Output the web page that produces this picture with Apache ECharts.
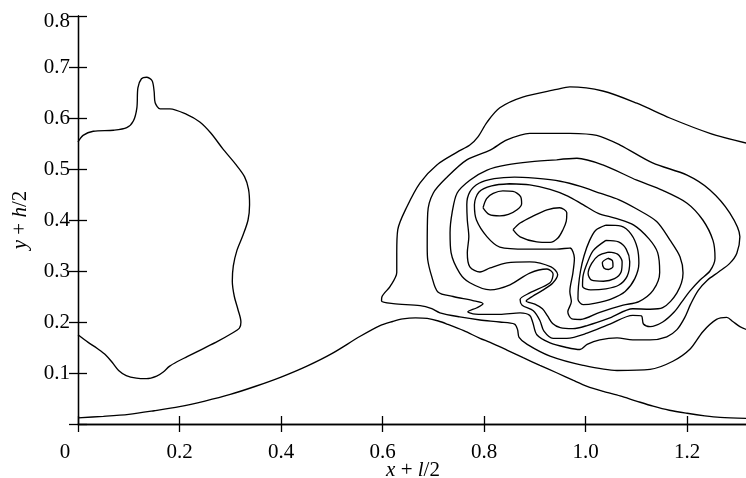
<!DOCTYPE html>
<html>
<head>
<meta charset="utf-8">
<script src="https://cdn.jsdelivr.net/npm/echarts@6/dist/echarts.min.js"></script>
<style>html,body{margin:0;padding:0;background:#fff;}#c{width:746px;height:478px;}</style>
</head>
<body>
<div id="c"></div>
<script>
const xTicks = [0, 0.2, 0.4, 0.6, 0.8, 1.0, 1.2];
const yTicks = [0.1, 0.2, 0.3, 0.4, 0.5, 0.6, 0.7, 0.8];

const bellCurve = [[0,0.012],[0.05,0.015],[0.1,0.019],[0.15,0.026],[0.2,0.034],[0.25,0.045],[0.3,0.058],[0.35,0.074],[0.4,0.092],[0.45,0.113],[0.5,0.138],[0.556,0.172],[0.595,0.193],[0.62,0.201],[0.64,0.206],[0.665,0.208],[0.688,0.207],[0.71,0.202],[0.727,0.196],[0.76,0.183],[0.792,0.168],[0.812,0.16],[0.845,0.145],[0.877,0.13],[0.91,0.115],[0.944,0.1],[0.975,0.086],[1.003,0.074],[1.035,0.064],[1.068,0.055],[1.1,0.045],[1.133,0.035],[1.165,0.027],[1.2,0.021],[1.235,0.016],[1.265,0.013],[1.32,0.011]];

const leftBlob = [[0,0.553],[0.010,0.566],[0.030,0.574],[0.070,0.576],[0.096,0.581],[0.109,0.594],[0.116,0.62],[0.118,0.659],[0.125,0.677],[0.135,0.680],[0.146,0.673],[0.150,0.652],[0.152,0.63],[0.162,0.618],[0.181,0.618],[0.214,0.607],[0.24,0.592],[0.262,0.57],[0.285,0.54],[0.31,0.51],[0.328,0.485],[0.336,0.46],[0.338,0.43],[0.335,0.4],[0.325,0.37],[0.313,0.34],[0.306,0.31],[0.304,0.28],[0.308,0.25],[0.315,0.225],[0.321,0.2],[0.318,0.188],[0.3,0.176],[0.275,0.162],[0.245,0.147],[0.215,0.132],[0.195,0.122],[0.18,0.113],[0.168,0.102],[0.155,0.094],[0.135,0.089],[0.115,0.09],[0.095,0.095],[0.08,0.105],[0.068,0.12],[0.055,0.135],[0.038,0.148],[0.02,0.16],[0,0.175]];

const contour1 = [[1.32,0.550],[1.245,0.570],[1.166,0.600],[1.101,0.629],[1.034,0.653],[0.969,0.661],[0.943,0.656],[0.876,0.641],[0.831,0.620],[0.806,0.592],[0.788,0.563],[0.772,0.547],[0.747,0.533],[0.707,0.508],[0.674,0.473],[0.648,0.426],[0.630,0.381],[0.628,0.336],[0.628,0.297],[0.615,0.270],[0.599,0.25],[0.598,0.241],[0.621,0.236],[0.674,0.232],[0.697,0.226],[0.713,0.218],[0.752,0.210],[0.792,0.204],[0.831,0.200],[0.860,0.196],[0.866,0.185],[0.869,0.170],[0.885,0.156],[0.930,0.133],[0.995,0.115],[1.062,0.105],[1.127,0.107],[1.172,0.123],[1.206,0.147],[1.231,0.181],[1.258,0.205],[1.278,0.209],[1.290,0.201],[1.304,0.191],[1.32,0.184]];

const contour2 = [[0.969,0.570],[1.022,0.566],[1.068,0.547],[1.132,0.512],[1.2,0.488],[1.245,0.459],[1.284,0.414],[1.304,0.367],[1.298,0.335],[1.284,0.315],[1.262,0.298],[1.24,0.282],[1.222,0.262],[1.207,0.235],[1.195,0.208],[1.18,0.185],[1.16,0.171],[1.127,0.165],[1.093,0.165],[1.062,0.169],[1.028,0.165],[1.003,0.156],[0.989,0.146],[0.963,0.150],[0.930,0.159],[0.904,0.175],[0.896,0.199],[0.890,0.213],[0.871,0.218],[0.831,0.215],[0.806,0.215],[0.778,0.216],[0.768,0.220],[0.786,0.228],[0.798,0.236],[0.778,0.242],[0.739,0.250],[0.709,0.259],[0.697,0.289],[0.689,0.322],[0.688,0.347],[0.689,0.414],[0.700,0.453],[0.727,0.484],[0.766,0.518],[0.812,0.537],[0.845,0.557],[0.890,0.570],[0.969,0.570]];

const contour3 = [[0.943,0.518],[0.983,0.521],[1.034,0.508],[1.101,0.478],[1.152,0.458],[1.2,0.433],[1.231,0.4],[1.251,0.36],[1.255,0.325],[1.245,0.3],[1.225,0.282],[1.205,0.26],[1.19,0.24],[1.175,0.22],[1.152,0.2],[1.127,0.191],[1.114,0.196],[1.11,0.212],[1.093,0.213],[1.048,0.196],[1.003,0.178],[0.963,0.168],[0.936,0.168],[0.918,0.182],[0.91,0.203],[0.897,0.222],[0.875,0.233],[0.871,0.244],[0.89,0.257],[0.93,0.277],[0.936,0.294],[0.924,0.304],[0.89,0.296],[0.851,0.273],[0.812,0.263],[0.772,0.277],[0.752,0.296],[0.735,0.336],[0.733,0.375],[0.737,0.414],[0.747,0.453],[0.772,0.478],[0.806,0.498],[0.845,0.508],[0.890,0.514],[0.943,0.518]];

const contour4 = [[0.9,0.482],[0.95,0.476],[0.99,0.466],[1.03,0.452],[1.065,0.44],[1.1,0.422],[1.14,0.397],[1.166,0.361],[1.186,0.328],[1.192,0.296],[1.18,0.257],[1.152,0.228],[1.127,0.225],[1.093,0.226],[1.048,0.208],[1.003,0.193],[0.975,0.187],[0.95,0.189],[0.935,0.197],[0.925,0.212],[0.915,0.226],[0.9,0.235],[0.883,0.241],[0.895,0.25],[0.915,0.262],[0.935,0.276],[0.945,0.293],[0.932,0.308],[0.89,0.318],[0.845,0.316],[0.812,0.306],[0.792,0.298],[0.772,0.308],[0.767,0.336],[0.77,0.367],[0.767,0.4],[0.766,0.43],[0.772,0.455],[0.79,0.472],[0.82,0.481],[0.86,0.484],[0.9,0.482]];

const contour5 = [[0.85,0.471],[0.89,0.469],[0.93,0.46],[0.965,0.447],[0.995,0.43],[1.025,0.413],[1.06,0.403],[1.095,0.39],[1.125,0.363],[1.142,0.336],[1.146,0.297],[1.133,0.262],[1.105,0.24],[1.074,0.233],[1.028,0.219],[0.99,0.205],[0.973,0.206],[0.965,0.22],[0.972,0.24],[0.969,0.26],[0.975,0.296],[0.978,0.325],[0.969,0.345],[0.943,0.343],[0.884,0.343],[0.831,0.347],[0.806,0.367],[0.785,0.4],[0.781,0.43],[0.79,0.455],[0.815,0.467],[0.85,0.471]];

const lobe1 = [[1.04,0.39],[1.07,0.388],[1.09,0.372],[1.102,0.345],[1.105,0.315],[1.097,0.285],[1.078,0.26],[1.05,0.245],[1.02,0.237],[0.995,0.234],[0.985,0.245],[0.986,0.27],[0.99,0.3],[0.997,0.33],[1.008,0.36],[1.02,0.38],[1.04,0.39]];
const lobe2 = [[1.04,0.36],[1.065,0.357],[1.08,0.343],[1.087,0.318],[1.082,0.29],[1.065,0.272],[1.04,0.265],[1.01,0.263],[0.994,0.27],[0.995,0.29],[1.003,0.315],[1.015,0.34],[1.04,0.36]];
const lobe3 = [[1.045,0.337],[1.063,0.333],[1.072,0.318],[1.07,0.298],[1.057,0.285],[1.035,0.28],[1.012,0.282],[1.005,0.295],[1.012,0.315],[1.025,0.33],[1.045,0.337]];
const lobe4 = [[1.044,0.325],[1.053,0.32],[1.054,0.309],[1.045,0.303],[1.036,0.306],[1.033,0.316],[1.044,0.325]];

const triangleLoop = [[0.857,0.381],[0.871,0.394],[0.897,0.408],[0.924,0.42],[0.949,0.424],[0.963,0.414],[0.962,0.398],[0.955,0.38],[0.945,0.364],[0.93,0.356],[0.904,0.357],[0.871,0.367],[0.857,0.381]];
const ellipseLoop = [[0.798,0.424],[0.805,0.442],[0.818,0.452],[0.837,0.457],[0.857,0.456],[0.872,0.446],[0.874,0.432],[0.865,0.42],[0.848,0.411],[0.831,0.408],[0.81,0.411],[0.798,0.424]];

const curves = [bellCurve, leftBlob, contour1, contour2, contour3, contour4, contour5, lobe1, lobe2, lobe3, lobe4, triangleLoop, ellipseLoop];

const FONT = 'Liberation Serif';
const chart = echarts.init(document.getElementById('c'), null, {renderer: 'canvas'});

function isTick(v, arr) { return arr.some(t => Math.abs(t - v) < 1e-6); }

const axisLineStyle = {color: '#000', width: 1.3};
const option = {
  animation: false,
  backgroundColor: '#fff',
  grid: {left: 78, top: 16, width: 670, height: 408, containLabel: false, outerBoundsMode: 'none'},
  xAxis: [
    {
      type: 'value', min: 0, max: 1.32, interval: 0.2, position: 'bottom',
      axisLine: {show: true, lineStyle: axisLineStyle},
      axisTick: {show: true, inside: true, length: 8, lineStyle: axisLineStyle},
      splitLine: {show: false},
      axisLabel: {
        show: true, margin: 18, color: '#000', fontFamily: FONT, fontSize: 21,
        showMaxLabel: false,
        formatter: function (v) {
          if (!isTick(v, xTicks)) return '';
          if (Math.abs(v) < 1e-9) return '{z|0}';
          return v.toFixed(1);
        },
        rich: {z: {fontFamily: FONT, fontSize: 21, color: '#000', padding: [0, 26, 0, 0]}}
      },
      name: '{i|x} + {i|l}/2', nameLocation: 'middle', nameGap: 36, nameMoveOverlap: false,
      nameTextStyle: {fontFamily: FONT, fontSize: 21, color: '#000',
        rich: {i: {fontFamily: FONT, fontSize: 21, fontStyle: 'italic', color: '#000'}}}
    },
    {
      type: 'value', min: 0, max: 1.32, interval: 0.2, position: 'top',
      axisLine: {show: true, lineStyle: axisLineStyle},
      axisTick: {show: true, inside: true, length: 8, lineStyle: axisLineStyle},
      splitLine: {show: false}, axisLabel: {show: false}
    }
  ],
  yAxis: [
    {
      type: 'value', min: 0, max: 0.8, interval: 0.1, position: 'left',
      axisLine: {show: true, lineStyle: axisLineStyle},
      axisTick: {show: true, inside: true, length: 9, lineStyle: axisLineStyle},
      splitLine: {show: false},
      axisLabel: {
        show: true, margin: 8, color: '#000', fontFamily: FONT, fontSize: 21,
        formatter: function (v) {
          if (!isTick(v, yTicks)) return '';
          if (Math.abs(v - 0.8) < 1e-6) return '{t|0.8}';
          return v.toFixed(1);
        },
        rich: {t: {fontFamily: FONT, fontSize: 21, color: '#000', padding: [11, 0, 0, 0]}}
      },
      name: '{i|y} + {i|h}/2', nameLocation: 'middle', nameGap: 47, nameMoveOverlap: false,
      nameTextStyle: {fontFamily: FONT, fontSize: 21, color: '#000',
        rich: {i: {fontFamily: FONT, fontSize: 21, fontStyle: 'italic', color: '#000'}}}
    },
    {
      type: 'value', min: 0, max: 0.8, interval: 0.1, position: 'right',
      axisLine: {show: true, lineStyle: axisLineStyle},
      axisTick: {show: true, inside: true, length: 9, lineStyle: axisLineStyle},
      splitLine: {show: false}, axisLabel: {show: false}
    }
  ],
  series: curves.map(function (c) {
    return {
      type: 'line', xAxisIndex: 0, yAxisIndex: 0, data: c,
      smooth: 0.3, showSymbol: false, symbol: 'none', silent: true,
      lineStyle: {color: '#000', width: 1.35}, clip: true
    };
  })
};
chart.setOption(option);
</script>
</body>
</html>
